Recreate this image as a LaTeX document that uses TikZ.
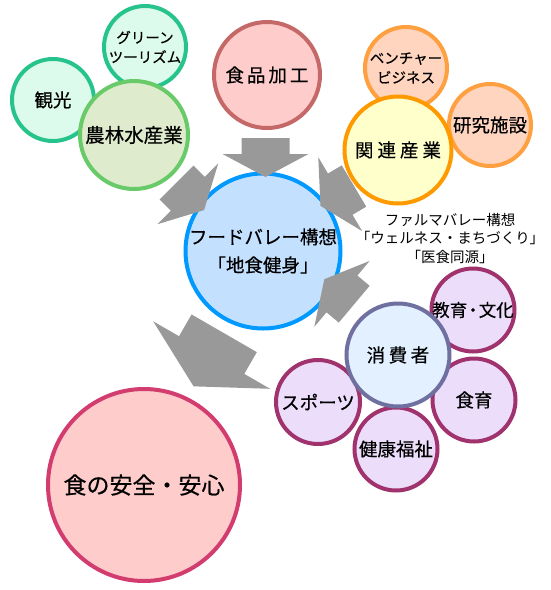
\documentclass[tikz,border=0pt]{standalone}
\usepackage{fontspec}
\setmainfont{Noto Sans CJK JP}
\newfontfamily\jpbold{Noto Sans CJK JP}[FakeBold=0.45]
\definecolor{tealbd}{RGB}{38,196,140}
\definecolor{tealfl}{RGB}{220,251,236}
\definecolor{grnbd}{RGB}{104,202,104}
\definecolor{grnfl}{RGB}{222,235,204}
\definecolor{redbd}{RGB}{196,104,104}
\definecolor{redfl}{RGB}{255,204,204}
\definecolor{orbd}{RGB}{255,160,64}
\definecolor{orfl}{RGB}{255,213,192}
\definecolor{yelbd}{RGB}{255,153,0}
\definecolor{yelfl}{RGB}{255,255,204}
\definecolor{blubd}{RGB}{0,153,255}
\definecolor{blufl}{RGB}{196,224,255}
\definecolor{conbd}{RGB}{112,112,160}
\definecolor{confl}{RGB}{226,240,255}
\definecolor{purbd}{RGB}{160,50,110}
\definecolor{purfl}{RGB}{236,222,250}
\definecolor{pinkbd}{RGB}{210,60,110}
\definecolor{arrgray}{RGB}{153,153,153}
\tikzset{
  bub/.style={circle, inner sep=0pt, line width=4pt, align=center, text=black},
  small/.style={font=\jpbold\fontsize{14.5}{19.5}\selectfont},
  mid/.style={font=\jpbold\fontsize{18.5}{22}\selectfont},
  blockarrow/.style={fill=arrgray, draw=none},
}
\newcommand{\blockarr}[3]{%
  \fill[blockarrow, shift={#1}, rotate=#2, scale=#3]
    (0,-24) -- (16,-24) -- (16,-43) -- (39,0) -- (16,43) -- (16,24) -- (0,24) -- cycle;}
\begin{document}
\begin{tikzpicture}[x=1pt,y=-1pt]
\fill[white] (0,0) rectangle (550,590);
\useasboundingbox (0,0) rectangle (550,590);
% green group
\node[bub, small, draw=tealbd, fill=tealfl, minimum size=82pt] (green) at (145,47) {グリーン\\ツーリズム};
\node[bub, mid, draw=tealbd, fill=tealfl, minimum size=82pt] (kanko) at (53,100) {観光};
\node[bub, draw=grnbd, fill=grnfl, minimum size=108pt, font=\jpbold\fontsize{19.5}{22}\selectfont] (norin) at (134,135) {農林水産業};
% food processing
\node[bub, mid, draw=redbd, fill=redfl, minimum size=106pt] (kako) at (267,75) {食\kern3pt 品\kern3pt 加\kern3pt 工};
% orange group
\node[bub, small, draw=orbd, fill=orfl, minimum size=82pt] (venture) at (406,68) {ベンチャー\\ビジネス};
\node[bub, mid, draw=orbd, fill=orfl, minimum size=82pt] (kenkyu) at (490,125) {研究施設};
\node[bub, mid, draw=yelbd, fill=yelfl, minimum size=107pt] (kanren) at (398,150) {関\kern4pt 連\kern4pt 産\kern4pt 業};
% center
\node[bub, mid, draw=blubd, fill=blufl, minimum size=155pt] (center) at (263,251) {フードバレー構想\\[6pt]「地食健身」};
% consumer group
\node[bub, draw=purbd, fill=purfl, minimum size=83pt, font=\jpbold\fontsize{17.5}{20}\selectfont] (kyoiku) at (473,310) {教育\kern-3pt・\kern-3pt 文化};
\node[bub, mid, draw=purbd, fill=purfl, minimum size=83pt] (shokuiku) at (474,400) {食育};
\node[bub, mid, draw=purbd, fill=purfl, minimum size=83pt] (kenko) at (396,449) {健康福祉};
\node[bub, mid, draw=purbd, fill=purfl, minimum size=84pt] (sports) at (318,402) {スポーツ};
\node[bub, mid, draw=conbd, fill=confl, minimum size=103pt] (shohi) at (398,355) {消\kern3.5pt 費\kern3.5pt 者};
% safety
\node[bub, draw=pinkbd, fill=redfl, minimum size=192pt, font=\jpbold\fontsize{23}{26}\selectfont] (anzen) at (144,485) {食の安全・安心};
% annotation
\node[align=center, inner sep=0pt, font=\fontsize{14.5}{18.5}\selectfont] (pharma) at (450,238.5) {ファルマバレー構想\\「ウェルネス・まちづくり」\\「医食同源」};
% block arrows
\blockarr{(265.5,138)}{-90}{1}
\blockarr{(176.5,182.5)}{-45}{1}
\blockarr{(354,186)}{210.7}{1}
\blockarr{(354.2,304.2)}{140}{1}
\blockarr{(224.2,333.3)}{240}{1.57}
\end{tikzpicture}
\end{document}
